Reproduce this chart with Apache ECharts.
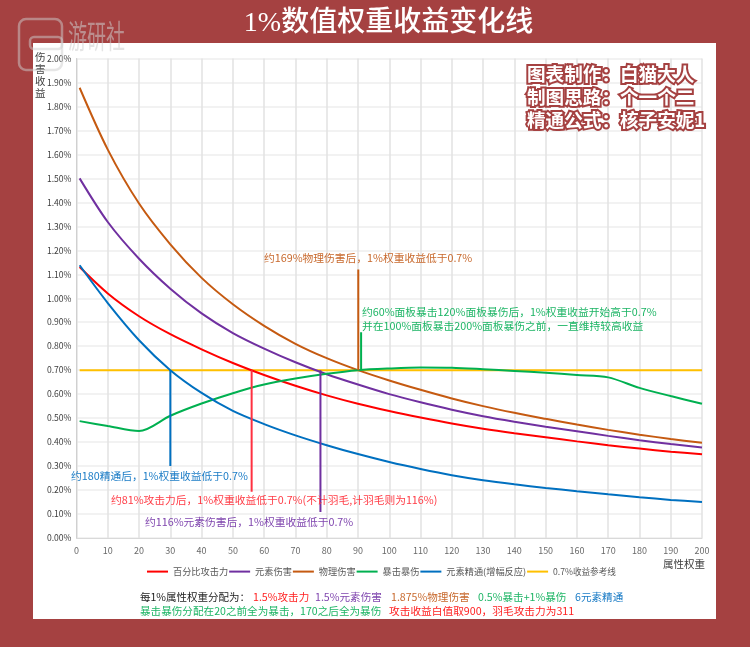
<!DOCTYPE html>
<html>
<head>
<meta charset="utf-8">
<style>html,body{margin:0;padding:0;background:#A54141}#chart{width:750px;height:647px}</style>
<script src="https://cdn.jsdelivr.net/npm/echarts@6/dist/echarts.min.js"></script>
</head>
<body>
<div id="chart"></div>
<script>
var weights = [1, 10, 20, 30, 40, 50, 60, 70, 80, 90, 100, 110, 120, 130, 140, 150, 160, 170, 180, 190, 200];

var attackValues = [1.13, 1.02, 0.925, 0.85, 0.787, 0.73, 0.68, 0.635, 0.595, 0.56, 0.53, 0.503, 0.478, 0.456, 0.437, 0.42, 0.403, 0.387, 0.373, 0.36, 0.349];
var elementValues = [1.50, 1.318, 1.165, 1.04, 0.937, 0.855, 0.79, 0.733, 0.683, 0.64, 0.60, 0.566, 0.535, 0.508, 0.485, 0.464, 0.445, 0.426, 0.408, 0.392, 0.377];
var physicalValues = [1.878, 1.62, 1.395, 1.225, 1.085, 0.975, 0.885, 0.81, 0.75, 0.70, 0.657, 0.618, 0.582, 0.55, 0.522, 0.497, 0.473, 0.451, 0.431, 0.413, 0.397];
var critValues = [0.4875, 0.467, 0.446, 0.51, 0.561, 0.604, 0.64, 0.665, 0.685, 0.70, 0.707, 0.711, 0.71, 0.704, 0.697, 0.689, 0.68, 0.67, 0.626, 0.592, 0.56];
var masteryValues = [1.1375, 0.98, 0.825, 0.70, 0.605, 0.53, 0.475, 0.428, 0.387, 0.35, 0.317, 0.288, 0.262, 0.241, 0.224, 0.209, 0.195, 0.182, 0.17, 0.159, 0.15];
var referenceValues = weights.map(function() { return 0.7; });

// vertical marker lines: [weight, from, to]
var markerAttack = [56, 0.70, 0.193];
var markerElement = [78, 0.70, 0.108];
var markerPhysical = [90.1, 0.70, 1.12];
var markerCrit = [91, 0.70, 0.858];
var markerMastery = [30, 0.70, 0.30];

var RED = '#FF0000', PURPLE = '#7030A0', ORANGE = '#C55A11', GREEN = '#00B050', BLUE = '#0070C0', YELLOW = '#FFC000';
var FONT = '"Noto Sans CJK SC", "Noto Sans", sans-serif';

function pairs(values) {
    return values.map(function(v, i) { return [weights[i], v]; });
}

function curve(name, values, color, z) {
    return {
        name: name, type: 'line', data: pairs(values), smooth: 0.3, showSymbol: false, z: z,
        lineStyle: { color: color, width: 2 }, itemStyle: { color: color }
    };
}

function marker(m, color) {
    return {
        type: 'line', data: [[m[0], m[1]], [m[0], m[2]]], showSymbol: false, z: 4,
        lineStyle: { color: color, width: 2 }, silent: true
    };
}

function note(x, y, text, color, size) {
    return {
        type: 'text', x: x, y: y, z: 50,
        style: { text: text, fill: color, font: (size || 10.75) + 'px ' + FONT, verticalAlign: 'middle' }
    };
}

function credit(y, text) {
    return {
        type: 'text', x: 527, y: y, z: 50,
        style: {
            text: text, fill: '#fff', font: 'bold 18.6px ' + FONT, verticalAlign: 'middle',
            stroke: '#A54141', lineWidth: 4
        }
    };
}

var myChart = echarts.init(document.getElementById('chart'));

var option = {
    animation: false,
    backgroundColor: '#A54141',
    grid: { left: 76.5, right: 48, top: 58.5, height: 479.5 },
    legend: {
        data: [
            { name: '百分比攻击力' }, { name: '元素伤害' }, { name: '物理伤害' }, { name: '暴击暴伤' },
            { name: '元素精通(增幅反应)' },
            { name: '0.7%收益参考线', textStyle: { fontSize: 8.6 } }
        ],
        left: 142, top: 562, itemWidth: 21, itemHeight: 2, itemGap: 1, icon: 'rect',
        textStyle: { fontSize: 9.2, color: '#595959', fontFamily: FONT }
    },
    xAxis: {
        type: 'value', min: 0, max: 200, interval: 10,
        axisLine: { lineStyle: { color: '#d9d9d9' } },
        axisTick: { show: false },
        axisLabel: { color: '#6a6a6a', fontSize: 9, margin: 8, fontFamily: FONT },
        splitLine: { show: true, lineStyle: { color: '#e2e2e2', width: 1.5 } }
    },
    yAxis: {
        type: 'value', min: 0, max: 2, interval: 0.1,
        axisLine: { show: true, lineStyle: { color: '#d0d0d0' } },
        axisTick: { show: false },
        axisLabel: {
            color: '#404040', fontSize: 8.6, margin: 5, fontFamily: FONT,
            formatter: function(v) { return v.toFixed(2) + '%'; }
        },
        splitLine: { show: true, lineStyle: { color: '#eeeeee', width: 1.5 } }
    },
    series: [
        curve('0.7%收益参考线', referenceValues, YELLOW, 2),
        curve('百分比攻击力', attackValues, RED, 3),
        curve('元素伤害', elementValues, PURPLE, 3),
        curve('物理伤害', physicalValues, ORANGE, 3),
        curve('暴击暴伤', critValues, GREEN, 3),
        curve('元素精通(增幅反应)', masteryValues, BLUE, 3),
        marker(markerAttack, '#FF3040'),
        marker(markerElement, PURPLE),
        marker(markerPhysical, ORANGE),
        marker(markerCrit, GREEN),
        marker(markerMastery, BLUE)
    ],
    graphic: [
        { type: 'rect', z: -10, shape: { x: 33, y: 43, width: 683, height: 576 }, style: { fill: '#fff' } },
        {
            type: 'text', x: 388.5, y: 24, z: 50,
            style: { text: '1%数值权重收益变化线', fill: '#fff', font: '500 28px "Liberation Serif", "Noto Sans CJK SC"', align: 'center', verticalAlign: 'middle' }
        },
        // watermark logo
        { type: 'rect', z: 60, shape: { x: 19, y: 19, width: 43, height: 51, r: 7 }, style: { fill: 'none', stroke: 'rgba(205,205,205,0.5)', lineWidth: 2.5 } },
        { type: 'rect', z: 60, shape: { x: 30, y: 37, width: 32, height: 12, r: 4 }, style: { fill: 'none', stroke: 'rgba(205,205,205,0.5)', lineWidth: 2.5 } },
        {
            type: 'text', x: 68, y: 36, scaleY: 1.7, z: 60,
            style: { text: '游研社', fill: 'rgba(205,205,205,0.55)', font: '19px ' + FONT, verticalAlign: 'middle' }
        },
        {
            type: 'text', x: 35, y: 75, z: 50,
            style: { text: '伤\n害\n收\n益', fill: '#404040', font: '10.5px ' + FONT, lineHeight: 12, verticalAlign: 'middle' }
        },
        note(663, 564, '属性权重', '#404040', 10.5),
        credit(74, '图表制作\uFF1A白猫大人'),
        credit(97, '制图思路\uFF1A个一个二'),
        credit(120, '精通公式\uFF1A核子安妮1'),
        note(264, 258, '约169%物理伤害后\uFF0C1%权重收益低于0.7%', '#C8692D'),
        note(362, 312, '约60%面板暴击120%面板暴伤后\uFF0C1%权重收益开始高于0.7%', '#1DB565'),
        note(362, 326, '并在100%面板暴击200%面板暴伤之前\uFF0C一直维持较高收益', '#1DB565'),
        note(71, 476, '约180精通后\uFF0C1%权重收益低于0.7%', '#1B7CC6'),
        note(111, 500, '约81%攻击力后\uFF0C1%权重收益低于0.7%(不计羽毛,计羽毛则为116%)', '#FF3B45'),
        note(145, 522, '约116%元素伤害后\uFF0C1%权重收益低于0.7%', '#7F45AE'),
        note(140, 597, '每1%属性权重分配为\uFF1A', '#222', 10.5),
        note(253, 597, '1.5%攻击力', '#FF2020', 10.6),
        note(315, 597, '1.5%元素伤害', '#7F45AE', 10.6),
        note(391, 597, '1.875%物理伤害', '#C8692D', 10.6),
        note(478, 597, '0.5%暴击+1%暴伤', '#1DB565', 10.6),
        note(575, 597, '6元素精通', '#1B7CC6', 10.6),
        note(140, 611, '暴击暴伤分配在20之前全为暴击\uFF0C170之后全为暴伤', '#1DB565', 10.6),
        note(389, 611, '攻击收益白值取900\uFF0C羽毛攻击力为311', '#FF2020', 10.7)
    ]
};

myChart.setOption(option);
</script>
</body>
</html>
